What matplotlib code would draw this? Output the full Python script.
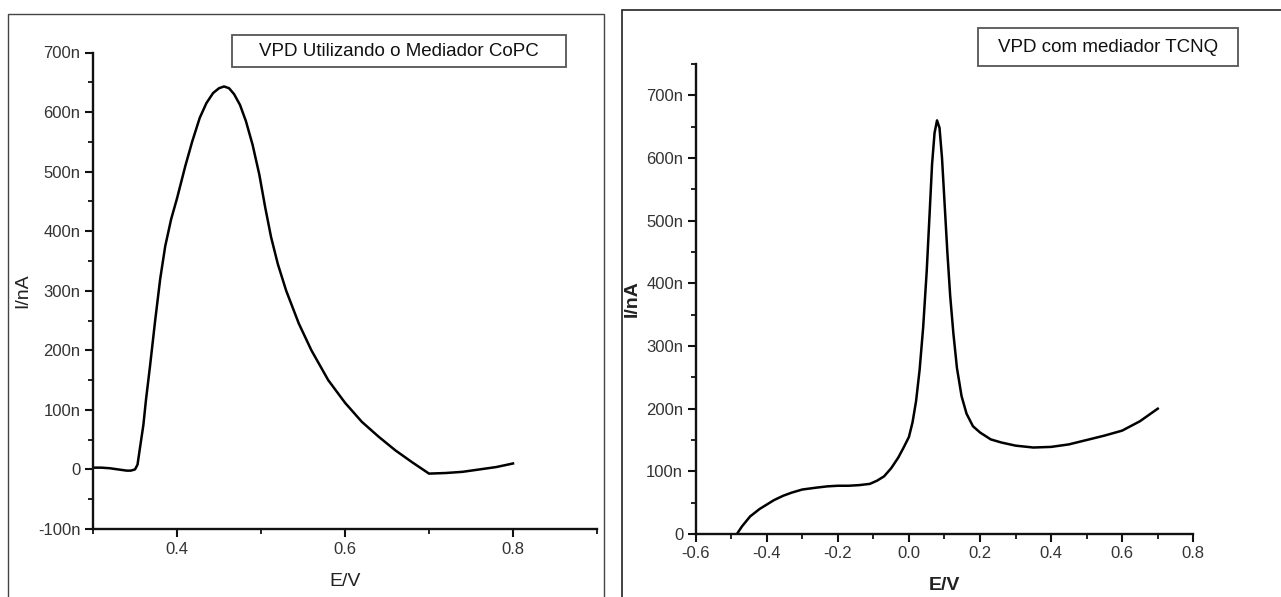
import matplotlib
matplotlib.use("Agg")
import matplotlib.pyplot as plt
from matplotlib.patches import Rectangle
from matplotlib.ticker import MultipleLocator, FuncFormatter

plt.rcParams['font.family'] = ['Liberation Sans', 'DejaVu Sans']

# ---------------- data ----------------
copc_E = [0.300, 0.310, 0.320, 0.330, 0.340, 0.345, 0.350, 0.353, 0.356, 0.360,
          0.363, 0.368, 0.374, 0.380, 0.386, 0.393, 0.400, 0.410, 0.418,
          0.427, 0.435, 0.443, 0.450, 0.456, 0.462, 0.468, 0.475, 0.482, 0.490,
          0.498, 0.505, 0.512, 0.520, 0.530, 0.545, 0.560, 0.580, 0.600, 0.620,
          0.640, 0.660, 0.680, 0.700, 0.720, 0.740, 0.760, 0.780, 0.800]
copc_I = [3, 3, 2, 0, -2, -2, 0, 8, 37, 75,
          116, 175, 250, 320, 375, 420, 455, 510, 550,
          590, 615, 632, 640, 643, 640, 630, 612, 585, 545,
          495, 440, 390, 345, 300, 245, 200, 150, 112, 80,
          55, 32, 12, -7, -6, -4, 0, 4, 10]

tcnq_E = [-0.484, -0.470, -0.447, -0.420, -0.400, -0.380, -0.354, -0.330, -0.300, -0.260,
          -0.230, -0.200, -0.170, -0.140, -0.110, -0.090, -0.070, -0.050, -0.030, -0.015,
          0.000, 0.010, 0.020, 0.030, 0.040, 0.050, 0.058, 0.065, 0.072, 0.079,
          0.086, 0.093, 0.100, 0.108, 0.116, 0.125, 0.135, 0.148, 0.162, 0.180,
          0.200, 0.230, 0.260, 0.300, 0.350, 0.400, 0.450, 0.500,
          0.550, 0.600, 0.650, 0.700]
tcnq_I = [0, 12, 28, 40, 47, 54, 61, 66, 71, 74,
          76, 77, 77, 78, 80, 85, 92, 105, 122, 138,
          155, 178, 212, 262, 330, 420, 510, 590, 640, 660,
          648, 600, 530, 450, 380, 320, 265, 220, 192, 172,
          162, 151, 146, 141, 138, 139, 143, 150,
          157, 165, 180, 200]

x1_major = [0.4, 0.6, 0.8]
x2_major = [-0.6, -0.4, -0.2, 0.0, 0.2, 0.4, 0.6, 0.8]
title_left = "VPD Utilizando o Mediador CoPC"
title_right = "VPD com mediador TCNQ"

# ---------------- figure ----------------
W, H = 1281, 597
fig = plt.figure(figsize=(W / 100, H / 100), dpi=100)
fig.patch.set_facecolor('white')

def fx(px):
    return px / W

def fy(py):
    return 1 - py / H

# outer panel frames
fig.patches.append(Rectangle((fx(8), fy(640)), fx(604) - fx(8), fy(14) - fy(640),
                             transform=fig.transFigure, fill=False, lw=1.0,
                             edgecolor='#444444', clip_on=False))
fig.patches.append(Rectangle((fx(622), fy(640)), fx(1330) - fx(622), fy(10) - fy(640),
                             transform=fig.transFigure, fill=False, lw=1.2,
                             edgecolor='#222222', clip_on=False))

def nfmt(v, pos):
    v = int(round(v))
    return "0" if v == 0 else f"{v}n"

def style(ax):
    for s in ['top', 'right']:
        ax.spines[s].set_visible(False)
    for s in ['left', 'bottom']:
        ax.spines[s].set_linewidth(1.7)
        ax.spines[s].set_color('#111111')
    ax.yaxis.set_major_locator(MultipleLocator(100))
    ax.yaxis.set_minor_locator(MultipleLocator(50))
    ax.yaxis.set_major_formatter(FuncFormatter(nfmt))
    ax.xaxis.set_minor_locator(MultipleLocator(0.1))
    ax.tick_params(which='major', direction='out', length=6, width=1.5,
                   labelsize=12, colors='#111111', labelcolor='#333333', pad=3)
    ax.tick_params(which='minor', direction='out', length=3.5, width=1.3,
                   colors='#111111')
    ax.set_facecolor('none')

# left chart
ax1 = fig.add_axes([fx(93), fy(529), fx(597) - fx(93), fy(52.5) - fy(529)])
ax1.plot(copc_E, copc_I, color='black', lw=1.8)
ax1.set_xlim(0.3, 0.9)
ax1.set_ylim(-100, 700)
style(ax1)
ax1.set_xticks(x1_major)
ax1.set_xticklabels([f"{v:.1f}" for v in x1_major])
ax1.set_xlabel("E/V", fontsize=14, labelpad=12, color='#222222')
ax1.set_ylabel("I/nA", fontsize=14, labelpad=5, color='#222222')

# right chart
ax2 = fig.add_axes([fx(695.7), fy(534), fx(1193.3) - fx(695.7), fy(64) - fy(534)])
ax2.plot(tcnq_E, tcnq_I, color='black', lw=1.8)
ax2.set_xlim(-0.6, 0.8)
ax2.set_ylim(0, 750)
style(ax2)
ax2.set_xticks(x2_major)
ax2.set_xticklabels([f"{v:.1f}" for v in x2_major])
ax2.set_xlabel("E/V", fontsize=14, labelpad=11, fontweight='bold', color='#222222')
ax2.set_ylabel("I/nA", fontsize=14, labelpad=4, fontweight='bold', color='#222222')

# title boxes
def tbox(x0, y0, x1, y1, text):
    fig.patches.append(Rectangle((fx(x0), fy(y1)), fx(x1) - fx(x0), fy(y0) - fy(y1),
                                 transform=fig.transFigure, fill=True,
                                 facecolor='white', lw=1.3, edgecolor='#555555'))
    fig.text(fx((x0 + x1) / 2), fy((y0 + y1) / 2), text, ha='center', va='center',
             fontsize=13.5, color='#111111')

tbox(232, 35, 566, 67, title_left)
tbox(978, 28, 1238, 66, title_right)

fig.savefig("out.png", dpi=100)
